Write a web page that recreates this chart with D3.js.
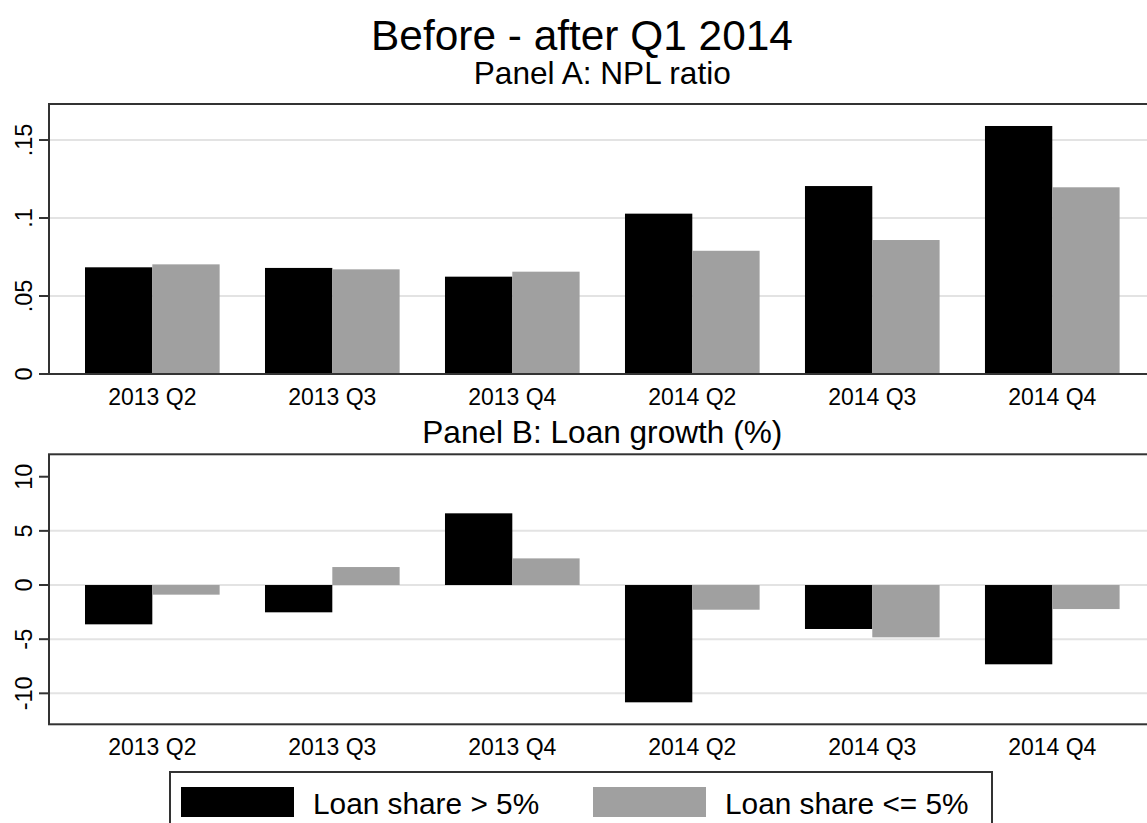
<!DOCTYPE html>
<html>
<head>
<meta charset="utf-8">
<script src="https://cdn.jsdelivr.net/npm/d3@7"></script>
<style>
    body { margin: 0; background: #fff; }
    svg { display: block; font-family: Arial, "Liberation Sans", sans-serif; }
</style>
</head>
<body>
<div id="chart"></div>
<script>
var quarters = ['2013 Q2', '2013 Q3', '2013 Q4', '2014 Q2', '2014 Q3', '2014 Q4'];
var seriesNames = ['Loan share > 5%', 'Loan share <= 5%'];
var seriesColors = ['#000000', '#a0a0a0'];

var nplHigh = [0.0684, 0.068, 0.0624, 0.1028, 0.1205, 0.159];
var nplLow = [0.0703, 0.0671, 0.0656, 0.079, 0.0859, 0.1197];
var nplTicks = [0, 0.05, 0.1, 0.15];
var nplTickLabels = ['0', '.05', '.1', '.15'];

var growthHigh = [-3.63, -2.52, 6.62, -10.83, -4.06, -7.32];
var growthLow = [-0.89, 1.66, 2.46, -2.28, -4.83, -2.22];
var growthTicks = [-10, -5, 0, 5, 10];
var growthGrid = [-10, -5, 0, 5];

(function () {
    'use strict';

    var width = 1147;
    var height = 823;

    var plotLeft = 49;
    var plotRight = 1155.6;

    var frameColor = '#333333';
    var gridColor = '#e3e3e3';

    var svg = d3.select('#chart')
        .append('svg')
        .attr('width', width)
        .attr('height', height);

    var x0 = d3.scaleBand()
        .domain(quarters)
        .range([plotLeft, plotRight])
        .paddingInner(0.252)
        .paddingOuter(0.2);

    var x1 = d3.scaleBand()
        .domain([0, 1])
        .range([0, x0.bandwidth()]);

    svg.append('text')
        .attr('x', 582)
        .attr('y', 50)
        .attr('text-anchor', 'middle')
        .attr('font-size', 42.4)
        .text('Before - after Q1 2014');

    drawPanel({
        title: 'Panel A: NPL ratio',
        titleY: 84,
        top: 104,
        bottom: 374,
        domain: [0, 0.1731],
        ticks: nplTicks,
        tickLabels: nplTickLabels,
        grid: nplTicks.slice(1),
        series: [nplHigh, nplLow],
        labelY: 405
    });

    drawPanel({
        title: 'Panel B: Loan growth (%)',
        titleY: 443,
        top: 454.3,
        bottom: 724.3,
        domain: [-12.86, 12.07],
        ticks: growthTicks,
        tickLabels: growthTicks.map(String),
        grid: growthGrid,
        series: [growthHigh, growthLow],
        labelY: 755
    });

    drawLegend();

    function drawPanel(opts) {
        var y = d3.scaleLinear()
            .domain(opts.domain)
            .range([opts.bottom, opts.top]);

        var g = svg.append('g');

        g.append('text')
            .attr('x', (plotLeft + plotRight) / 2)
            .attr('y', opts.titleY)
            .attr('text-anchor', 'middle')
            .attr('font-size', 31.6)
            .text(opts.title);

        g.selectAll('line.grid')
            .data(opts.grid)
            .enter()
            .append('line')
            .attr('class', 'grid')
            .attr('x1', plotLeft)
            .attr('x2', plotRight)
            .attr('y1', function (d) { return y(d); })
            .attr('y2', function (d) { return y(d); })
            .attr('stroke', gridColor)
            .attr('stroke-width', 2);

        opts.series.forEach(function (values, s) {
            g.selectAll('rect.s' + s)
                .data(values)
                .enter()
                .append('rect')
                .attr('class', 's' + s)
                .attr('x', function (d, i) { return x0(quarters[i]) + x1(s); })
                .attr('width', x1.bandwidth())
                .attr('y', function (d) { return y(Math.max(0, d)); })
                .attr('height', function (d) { return Math.abs(y(d) - y(0)); })
                .attr('fill', seriesColors[s]);
        });

        g.append('rect')
            .attr('x', plotLeft)
            .attr('y', opts.top)
            .attr('width', plotRight - plotLeft)
            .attr('height', opts.bottom - opts.top)
            .attr('fill', 'none')
            .attr('stroke', frameColor)
            .attr('stroke-width', 2);

        var ticks = g.selectAll('g.ytick')
            .data(opts.ticks)
            .enter()
            .append('g')
            .attr('class', 'ytick')
            .attr('transform', function (d) { return 'translate(0,' + y(d) + ')'; });

        ticks.append('line')
            .attr('x1', plotLeft - 10)
            .attr('x2', plotLeft)
            .attr('stroke', frameColor)
            .attr('stroke-width', 2);

        ticks.append('text')
            .attr('transform', 'translate(32,0) rotate(-90)')
            .attr('text-anchor', 'middle')
            .attr('font-size', 23.5)
            .text(function (d, i) { return opts.tickLabels[i]; });

        g.selectAll('text.xlabel')
            .data(quarters)
            .enter()
            .append('text')
            .attr('class', 'xlabel')
            .attr('x', function (d) { return x0(d) + x0.bandwidth() / 2; })
            .attr('y', opts.labelY)
            .attr('text-anchor', 'middle')
            .attr('font-size', 23)
            .text(function (d) { return d; });
    }

    function drawLegend() {
        var g = svg.append('g')
            .attr('transform', 'translate(170,772)');

        g.append('rect')
            .attr('width', 822)
            .attr('height', 70)
            .attr('fill', '#fff')
            .attr('stroke', frameColor)
            .attr('stroke-width', 2);

        var items = g.selectAll('g.item')
            .data(seriesNames)
            .enter()
            .append('g')
            .attr('class', 'item')
            .attr('transform', function (d, i) { return 'translate(' + (11 + i * 412) + ',15)'; });

        items.append('rect')
            .attr('width', 113)
            .attr('height', 30)
            .attr('fill', function (d, i) { return seriesColors[i]; });

        items.append('text')
            .attr('x', 132)
            .attr('y', 27)
            .attr('font-size', 29.8)
            .text(function (d) { return d; });
    }

}());
</script>
</body>
</html>
